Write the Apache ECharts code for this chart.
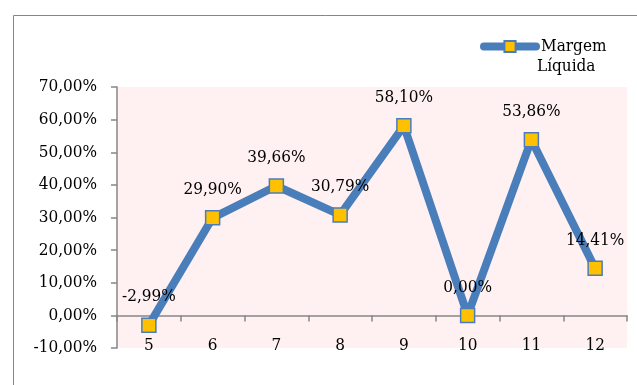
<!DOCTYPE html>
<html>
<head>
<meta charset="utf-8">
<script src="https://cdn.jsdelivr.net/npm/echarts@6/dist/echarts.min.js"></script>
<style>
  html, body { margin: 0; padding: 0; background: #fff; }
  #main { width: 637px; height: 385px; }
</style>
</head>
<body>
<div id="main"></div>
<script>
var categories = ['5', '6', '7', '8', '9', '10', '11', '12'];
var margem = [-2.99, 29.90, 39.66, 30.79, 58.10, 0.00, 53.86, 14.41];
var seriesName = 'Margem Líquida';

var font = '"DejaVu Serif Condensed", "DejaVu Serif", serif';
function pct(v) {
    return v.toFixed(2).replace('.', ',') + '%';
}

var myChart = echarts.init(document.getElementById('main'));
var option = {
    animation: false,
    graphic: [{
        type: 'rect',
        z: -10,
        shape: { x: 13.5, y: 15.5, width: 700, height: 500 },
        style: { fill: '#fff', stroke: '#868686', lineWidth: 1 }
    }, {
        // second line of the legend text
        type: 'text',
        left: 537,
        top: 58,
        style: { text: 'Líquida', font: '17px ' + font, fill: '#000' }
    }],
    legend: {
        left: 475,
        top: 33,
        itemWidth: 52,
        itemHeight: 14,
        formatter: function () { return 'Margem'; },
        lineStyle: { width: 8, cap: 'round' },
        textStyle: { fontFamily: font, fontSize: 17, color: '#000' },
        data: [seriesName]
    },
    grid: {
        left: 117,
        top: 87,
        right: 10,
        bottom: 37,
        show: true,
        backgroundColor: '#FFF1F1',
        borderWidth: 0
    },
    xAxis: {
        type: 'category',
        data: categories,
        boundaryGap: true,
        axisLine: { onZero: true, lineStyle: { color: '#868686', width: 1.5 } },
        axisTick: { show: true, length: 6, lineStyle: { color: '#868686', width: 1.5 } },
        axisLabel: { margin: -11, fontFamily: font, fontSize: 17, color: '#000' },
        splitLine: { show: false }
    },
    yAxis: {
        type: 'value',
        min: -10,
        max: 70,
        interval: 10,
        axisLine: { show: true, lineStyle: { color: '#868686', width: 1.5 } },
        axisTick: { show: true, length: 6, lineStyle: { color: '#868686', width: 1.5 } },
        axisLabel: {
            margin: 20,
            fontFamily: font,
            fontSize: 17,
            color: '#000',
            formatter: function (v) { return pct(v); }
        },
        splitLine: { show: false }
    },
    series: [{
        name: seriesName,
        type: 'line',
        data: margem,
        symbol: 'rect',
        symbolSize: 14,
        lineStyle: { color: '#4A7EBB', width: 8, cap: 'round', join: 'round' },
        itemStyle: { color: '#FFC000', borderColor: '#4A7EBB', borderWidth: 1.5 },
        label: {
            show: true,
            position: 'top',
            distance: 12,
            fontFamily: font,
            fontSize: 17,
            color: '#000',
            formatter: function (p) { return pct(p.value); }
        }
    }]
};
myChart.setOption(option);
</script>
</body>
</html>
